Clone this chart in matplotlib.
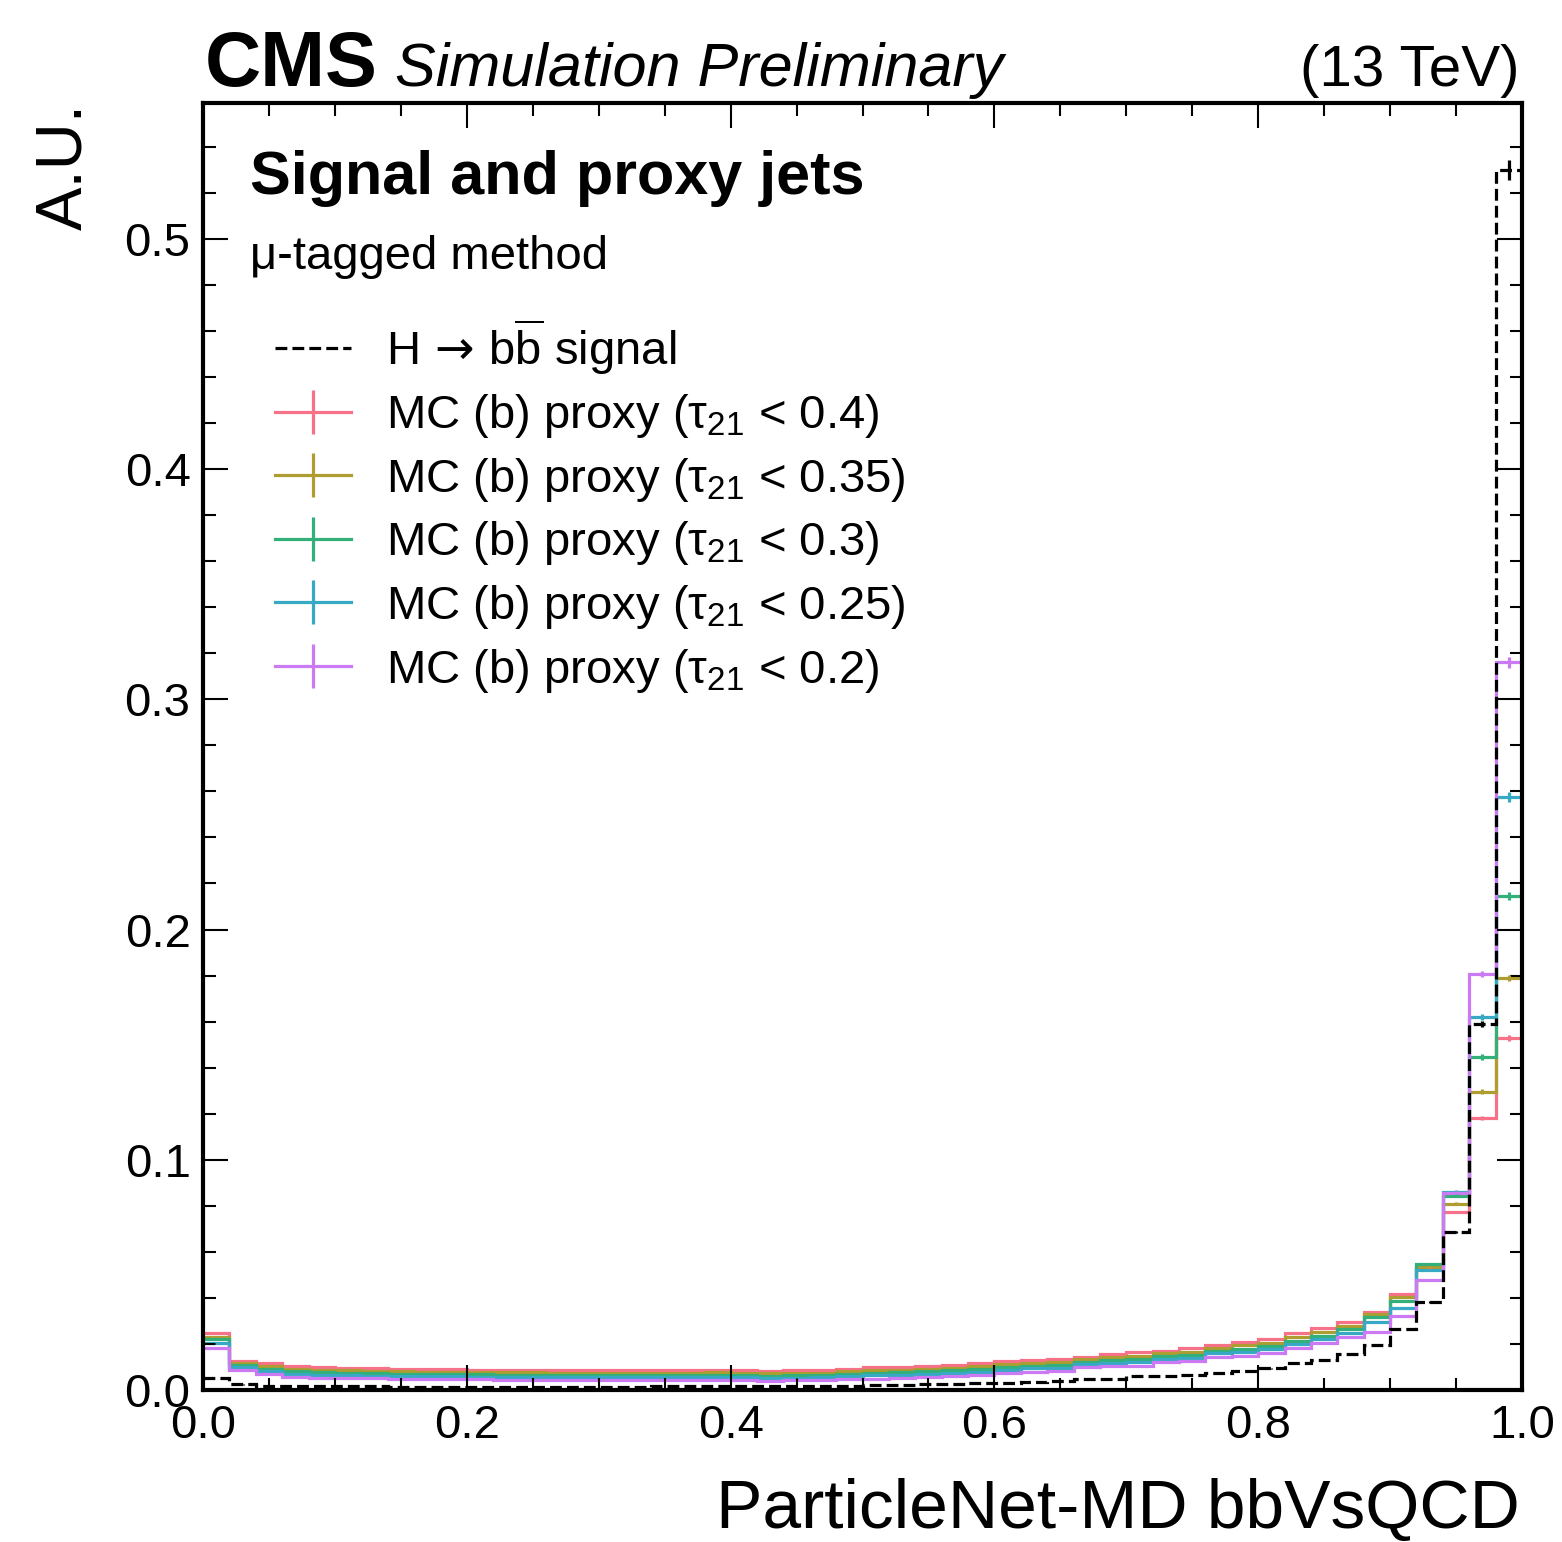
import numpy as np
import matplotlib
matplotlib.use("Agg")
import matplotlib.pyplot as plt
from matplotlib.lines import Line2D
import seaborn as sns

plt.rcParams["font.family"] = ["Liberation Sans", "DejaVu Sans"]
plt.rcParams["mathtext.fontset"] = "custom"
plt.rcParams["mathtext.rm"] = "Liberation Sans"
plt.rcParams["mathtext.it"] = "Liberation Sans:italic"
plt.rcParams["mathtext.bf"] = "Liberation Sans:bold"
plt.rcParams["mathtext.sf"] = "DejaVu Sans"

# 50 bins of ParticleNet-MD bbVsQCD score, normalised to unit area
edges = np.linspace(0.0, 1.0, 51)

signal = [0.0053, 0.0024, 0.0019, 0.0017, 0.0016, 0.0016, 0.0016, 0.0015, 0.0015, 0.0015,
          0.0015, 0.0015, 0.0015, 0.0015, 0.0015, 0.0015, 0.0015, 0.0016, 0.0016, 0.0016,
          0.0016, 0.0016, 0.0017, 0.0017, 0.0018, 0.0020, 0.0022, 0.0024, 0.0026, 0.0029,
          0.0032, 0.0034, 0.0040, 0.0047, 0.0049, 0.0059, 0.0062, 0.0065, 0.0072, 0.0082,
          0.0094, 0.0116, 0.0130, 0.0156, 0.0195, 0.0265, 0.0383, 0.0687, 0.1590, 0.5300]

proxy_040 = [0.0246, 0.0127, 0.0116, 0.0104, 0.0099, 0.0097, 0.0095, 0.0093, 0.0091, 0.0090,
             0.0089, 0.0088, 0.0088, 0.0087, 0.0087, 0.0087, 0.0086, 0.0087, 0.0087, 0.0088,
             0.0088, 0.0083, 0.0086, 0.0088, 0.0093, 0.0099, 0.0102, 0.0106, 0.0110, 0.0116,
             0.0125, 0.0130, 0.0136, 0.0145, 0.0156, 0.0164, 0.0171, 0.0181, 0.0195, 0.0210,
             0.0222, 0.0246, 0.0268, 0.0297, 0.0337, 0.0418, 0.0530, 0.0773, 0.1180, 0.1530]

proxy_035 = [0.0232, 0.0118, 0.0103, 0.0092, 0.0087, 0.0085, 0.0083, 0.0081, 0.0080, 0.0079,
             0.0078, 0.0077, 0.0077, 0.0076, 0.0076, 0.0076, 0.0075, 0.0076, 0.0076, 0.0077,
             0.0076, 0.0072, 0.0075, 0.0076, 0.0081, 0.0086, 0.0089, 0.0093, 0.0097, 0.0103,
             0.0111, 0.0117, 0.0122, 0.0133, 0.0142, 0.0149, 0.0159, 0.0166, 0.0182, 0.0194,
             0.0205, 0.0229, 0.0251, 0.0279, 0.0330, 0.0404, 0.0535, 0.0810, 0.1295, 0.1790]

proxy_030 = [0.0220, 0.0109, 0.0093, 0.0082, 0.0077, 0.0075, 0.0073, 0.0071, 0.0070, 0.0069,
             0.0068, 0.0067, 0.0067, 0.0066, 0.0066, 0.0066, 0.0065, 0.0066, 0.0066, 0.0067,
             0.0066, 0.0062, 0.0064, 0.0066, 0.0070, 0.0074, 0.0077, 0.0081, 0.0085, 0.0091,
             0.0098, 0.0105, 0.0108, 0.0122, 0.0130, 0.0135, 0.0147, 0.0153, 0.0170, 0.0179,
             0.0190, 0.0213, 0.0235, 0.0263, 0.0317, 0.0387, 0.0547, 0.0843, 0.1447, 0.2146]

proxy_025 = [0.0203, 0.0099, 0.0082, 0.0071, 0.0066, 0.0064, 0.0062, 0.0061, 0.0060, 0.0059,
             0.0058, 0.0057, 0.0057, 0.0056, 0.0056, 0.0056, 0.0055, 0.0056, 0.0056, 0.0057,
             0.0056, 0.0052, 0.0054, 0.0056, 0.0059, 0.0063, 0.0066, 0.0070, 0.0074, 0.0080,
             0.0086, 0.0094, 0.0096, 0.0112, 0.0119, 0.0122, 0.0136, 0.0141, 0.0159, 0.0165,
             0.0176, 0.0198, 0.0220, 0.0248, 0.0296, 0.0356, 0.0520, 0.0860, 0.1620, 0.2576]

proxy_020 = [0.0181, 0.0087, 0.0068, 0.0058, 0.0054, 0.0052, 0.0050, 0.0049, 0.0048, 0.0047,
             0.0046, 0.0045, 0.0045, 0.0044, 0.0044, 0.0044, 0.0044, 0.0045, 0.0045, 0.0045,
             0.0043, 0.0040, 0.0042, 0.0043, 0.0046, 0.0049, 0.0052, 0.0056, 0.0060, 0.0066,
             0.0072, 0.0080, 0.0081, 0.0099, 0.0104, 0.0106, 0.0123, 0.0125, 0.0145, 0.0148,
             0.0159, 0.0181, 0.0203, 0.0229, 0.0253, 0.0322, 0.0478, 0.0856, 0.1807, 0.3160]

proxy_cuts = ["0.4", "0.35", "0.3", "0.25", "0.2"]
proxies = [proxy_040, proxy_035, proxy_030, proxy_025, proxy_020]
mc_rel_err = 0.008

colors = sns.color_palette("husl", len(proxies))

W, H = 1562, 1542
fig = plt.figure(figsize=(W / 100, H / 100), dpi=100)
ax = fig.add_axes([203 / W, 1 - 1390 / H, (1522 - 203) / W, (1390 - 103) / H])

centers = 0.5 * (edges[1:] + edges[:-1])
lw = 2.3

handles, labels = [], []
for cut, vals, c in zip(proxy_cuts, proxies, colors):
    vals = np.array(vals)
    ax.stairs(vals, edges, baseline=None, color=c, lw=lw)
    ax.errorbar(centers, vals, yerr=vals * mc_rel_err, fmt="none", ecolor=c, elinewidth=lw)
    h = (Line2D([], [], color=c, lw=lw),
         Line2D([], [], color=c, marker="|", markersize=32, mew=lw, linestyle="none"))
    handles.append(h)
    labels.append(r"MC (b) proxy ($\mathrm{\tau_{21}}$ < " + cut + ")")

sig = np.array(signal)
ax.stairs(sig, edges, baseline=None, color="black", lw=lw, linestyle="--", zorder=5)
ax.errorbar(centers, sig, yerr=sig * mc_rel_err, fmt="none", ecolor="black", elinewidth=lw, zorder=5)
handles.insert(0, Line2D([], [], color="black", lw=lw, linestyle="--"))
labels.insert(0, r"$\mathrm{H}\,\mathsf{\rightarrow}\,\mathrm{b\overline{b}}$ signal")

ax.set_xlim(0, 1)
ax.set_ylim(0, 0.559)
ax.set_xticks(np.arange(0, 1.01, 0.2))
ax.set_xticks(np.arange(0, 1.001, 0.05), minor=True)
ax.set_yticks(np.arange(0, 0.51, 0.1))
ax.set_yticks(np.arange(0, 0.559, 0.02), minor=True)
ax.set_xticklabels(["0.0", "0.2", "0.4", "0.6", "0.8", "1.0"])
ax.set_yticklabels(["0.0", "0.1", "0.2", "0.3", "0.4", "0.5"])
ax.tick_params(which="both", direction="in", top=True, right=True, labelsize=34, width=1.5)
ax.tick_params(which="major", length=18)
ax.tick_params(which="minor", length=9)
ax.tick_params(axis="x", which="major", pad=10)
ax.tick_params(axis="y", which="major", pad=9)
for s in ax.spines.values():
    s.set_linewidth(3)

ax.legend(handles, labels, loc="upper left", bbox_to_anchor=(275 / W, 1 - 317 / H),
          bbox_transform=fig.transFigure, frameon=False, fontsize=34,
          handlelength=1.6, handletextpad=0.75, labelspacing=0.33,
          borderpad=0, borderaxespad=0)

fig.text(250 / W, 1 - 194 / H, "Signal and proxy jets", fontsize=44, fontweight="bold", va="baseline")
fig.text(250 / W, 1 - 269 / H, "μ-tagged method", fontsize=34, va="baseline")

fig.text(205 / W, 1 - 86 / H, "CMS", fontsize=56, fontweight="bold", va="baseline")
fig.text(395 / W, 1 - 86 / H, "Simulation Preliminary", fontsize=44, style="italic", va="baseline")
fig.text(1520 / W, 1 - 86 / H, "(13 TeV)", fontsize=42, ha="right", va="baseline")

fig.text(1520 / W, 1 - 1528 / H, "ParticleNet-MD bbVsQCD", fontsize=50, ha="right", va="baseline")
fig.text(64 / W, 1 - 103 / H, "A.U.", fontsize=47, rotation=90, ha="center", va="top")

fig.savefig("out.png", dpi=100)
